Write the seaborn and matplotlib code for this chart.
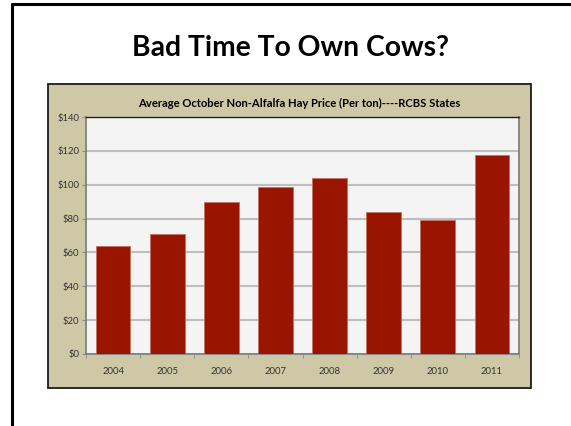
import numpy as np
import pandas as pd
import seaborn as sns
import matplotlib.pyplot as plt
from matplotlib.patches import Rectangle
from matplotlib.lines import Line2D

# data
years = ['2004', '2005', '2006', '2007', '2008', '2009', '2010', '2011']
price = [63.8, 70.6, 90.0, 98.7, 104.0, 83.9, 79.1, 117.3]
yticks = [0, 20, 40, 60, 80, 100, 120, 140]
ytick_labels = ['$0', '$20', '$40', '$60', '$80', '$100', '$120', '$140']

df = pd.DataFrame({'year': years, 'price': price})

sns.set_style('white')
plt.rcParams['font.family'] = ['Lato', 'DejaVu Sans']

fig = plt.figure(figsize=(5.71, 4.26), dpi=100)
fig.patch.set_facecolor('white')

# slide border (left and top)
fig.add_artist(Line2D([12/571, 12/571], [0, 1 - 4/426], color='black', lw=2.2,
                      transform=fig.transFigure))
fig.add_artist(Line2D([12/571, 1], [1 - 4/426, 1 - 4/426], color='black', lw=2.2,
                      transform=fig.transFigure))

# tan chart box
fig.add_artist(Rectangle((48/571, 1 - 388/426), 483/571, 304/426,
                         facecolor='#CFC8A6', edgecolor='#1a1a1a', lw=1.3,
                         transform=fig.transFigure, zorder=0))

fig.text(290/571, 1 - 48/426, 'Bad Time To Own Cows?', ha='center', va='center',
         fontsize=20.3, fontweight='bold', color='black')
fig.text(299/571, 1 - 103/426,
         'Average October Non-Alfalfa Hay Price (Per ton)----RCBS States',
         ha='center', va='center', fontsize=8.1, fontweight='bold', color='black')

ax = fig.add_axes([86/571, 1 - 354/426, 433/571, 237/426])
ax.set_facecolor('#F4F4F4')

sns.barplot(data=df, x='year', y='price', ax=ax, color='#9A1500',
            saturation=1, width=0.64, edgecolor='#C8705F', linewidth=0.6, zorder=3)

ax.set_ylim(0, 140)
ax.set_xlim(-0.5, len(years) - 0.5)
ax.set_yticks(yticks)
ax.set_yticklabels(ytick_labels)
ax.yaxis.grid(True, color='#BEBEBE', lw=1.5, zorder=0)
ax.set_axisbelow(True)

ax.set_xticks(np.arange(len(years)))
ax.set_xticklabels(years)
ax.set_xticks(np.arange(len(years) + 1) - 0.5, minor=True)
ax.tick_params(axis='x', which='major', length=0, pad=9, labelsize=6.8, labelcolor='#333333')
ax.tick_params(axis='x', which='minor', length=3, color='#8C8C8C', direction='out', bottom=True)
ax.tick_params(axis='y', length=3, color='#8C8C8C', direction='out', left=True, pad=2,
               labelsize=6.8, labelcolor='#333333')

for side in ['left', 'bottom', 'right']:
    ax.spines[side].set_color('#808080')
    ax.spines[side].set_linewidth(1.3)
ax.spines['top'].set_color('#222222')
ax.spines['top'].set_linewidth(1.0)

ax.set_xlabel('')
ax.set_ylabel('')

plt.savefig('out.png', dpi=100)
